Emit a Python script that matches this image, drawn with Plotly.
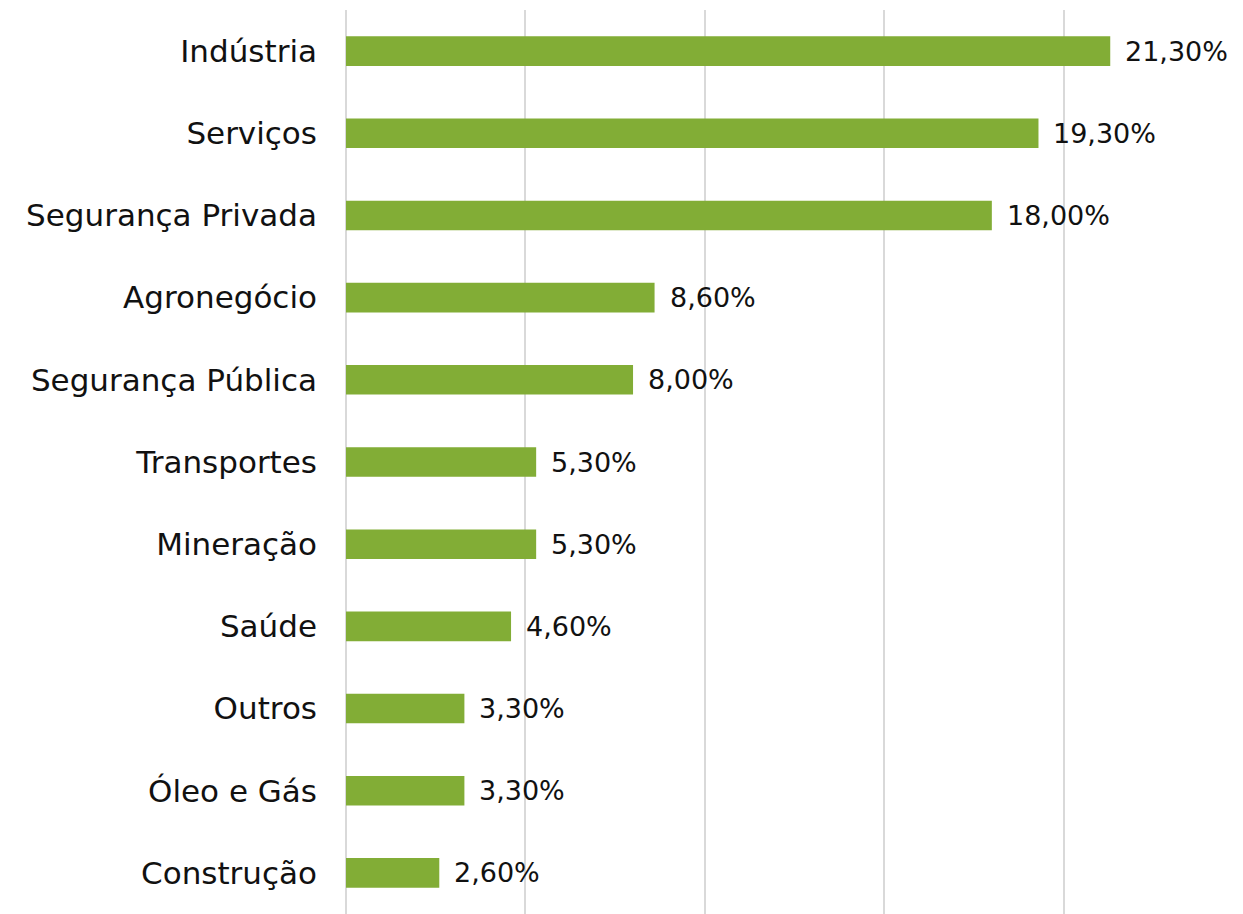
import plotly.graph_objs as go

# sectors and their share (%)
setores = ['Indústria', 'Serviços', 'Segurança Privada', 'Agronegócio',
           'Segurança Pública', 'Transportes', 'Mineração', 'Saúde',
           'Outros', 'Óleo e Gás', 'Construção']
percentuais = [21.3, 19.3, 18.0, 8.6, 8.0, 5.3, 5.3, 4.6, 3.3, 3.3, 2.6]

FONT = 'DejaVu Sans'
verde = '#82AD36'

fig = go.Figure(go.Bar(
    x=percentuais,
    y=setores,
    orientation='h',
    marker_color=verde,
    marker_line_width=0,
    width=0.36,
    hoverinfo='skip'
))

# value labels to the right of each bar
for setor, valor in zip(setores, percentuais):
    fig.add_annotation(
        x=valor, y=setor,
        text=f"{valor:.2f}".replace('.', ',') + '%',
        showarrow=False,
        xanchor='left',
        xshift=13,
        font=dict(family=FONT, size=27, color='#111111')
    )

fig.update_layout(
    width=1235,
    height=906,
    margin=dict(l=338, r=0, t=2, b=0),
    plot_bgcolor='white',
    paper_bgcolor='white',
    showlegend=False,
    xaxis=dict(
        range=[0, 25],
        dtick=5,
        showticklabels=False,
        showgrid=True,
        gridcolor='#D9D9D9',
        gridwidth=2,
        zeroline=True,
        zerolinecolor='#D9D9D9',
        zerolinewidth=2,
        fixedrange=True
    ),
    yaxis=dict(
        autorange='reversed',
        showgrid=False,
        ticks='',
        ticklabelstandoff=28,
        tickfont=dict(family=FONT, size=31, color='#111111')
    )
)

fig.write_html("out.html")
